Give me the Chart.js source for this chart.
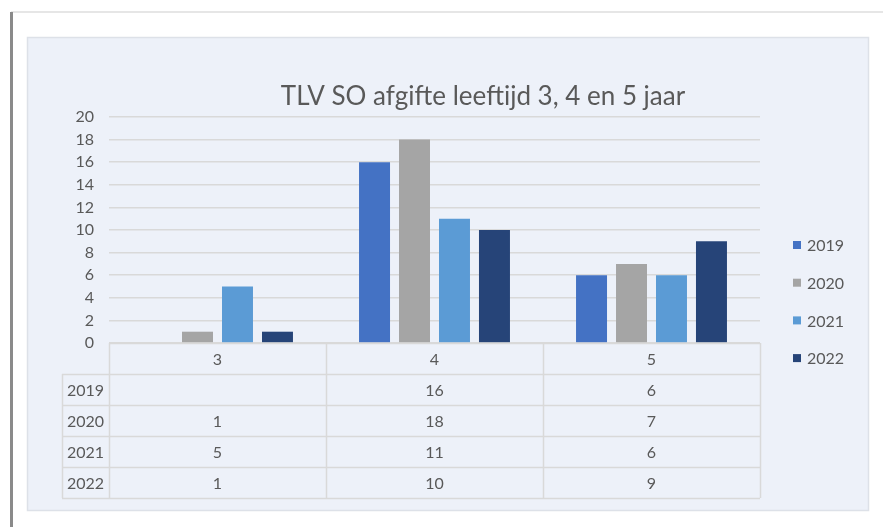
<!DOCTYPE html>
<html>
<head>
<meta charset="utf-8">
<script src="https://cdn.jsdelivr.net/npm/chart.js@4/dist/chart.umd.min.js"></script>
<style>
  html, body { margin: 0; padding: 0; background: #fff; }
  #wrap { width: 883px; height: 527px; }
</style>
</head>
<body>
<div id="wrap"><canvas id="tlvChart" width="883" height="527"></canvas></div>
<script>
// data
var categories = ["3", "4", "5"];
var years = ["2019", "2020", "2021", "2022"];
var data2019 = [null, 16, 6];
var data2020 = [1, 18, 7];
var data2021 = [5, 11, 6];
var data2022 = [1, 10, 9];
var yTicks = [0, 2, 4, 6, 8, 10, 12, 14, 16, 18, 20];
var chartTitle = "TLV SO afgifte leeftijd 3, 4 en 5 jaar";

var colors = ["#4472c4", "#a5a5a5", "#5b9bd5", "#264478"];
var textColor = "#595959";
var lineColor = "#d9d9d9";
var fontFamily = "Lato, 'Noto Sans', sans-serif";

// frame, panel, title, legend and data table
var excelLook = {
  id: "excelLook",
  beforeDraw: function(chart) {
    var c = chart.ctx;
    c.save();
    c.fillStyle = "#ffffff";
    c.fillRect(0, 0, chart.width, chart.height);
    // outer frame
    c.fillStyle = "#e6e6e6";
    c.fillRect(11, 11, chart.width - 11, 2);
    c.fillStyle = "#8a8a8a";
    c.fillRect(10, 12, 3, chart.height - 12);
    // chart panel
    c.fillStyle = "#edf1f9";
    c.fillRect(27, 37, 842, 474);
    c.strokeStyle = "#dde1e8";
    c.lineWidth = 1.5;
    c.strokeRect(27.5, 37.5, 841, 473);
    c.restore();
  },
  afterDraw: function(chart) {
    var c = chart.ctx;
    var area = chart.chartArea;
    var xs = chart.scales.x;
    var colW = area.width / categories.length;
    var rowH = 31;
    var top = area.bottom;
    var labelLeft = 62;
    c.save();

    // title
    c.fillStyle = textColor;
    c.font = "26px " + fontFamily;
    c.textAlign = "center";
    c.textBaseline = "middle";
    c.fillText(chartTitle, 483, 97);

    // legend
    c.font = "16px " + fontFamily;
    c.textAlign = "left";
    chart.data.datasets.forEach(function(ds, i) {
      var y = 245 + i * 37.7;
      c.fillStyle = ds.backgroundColor;
      c.fillRect(793, y - 4, 8, 8);
      c.fillStyle = textColor;
      c.fillText(ds.label, 807, y + 1);
    });

    // table grid
    c.strokeStyle = lineColor;
    c.lineWidth = 1.5;
    var nRows = years.length;
    var bottom = top + rowH * (nRows + 1);
    c.beginPath();
    c.moveTo(area.left, top + 0.5);
    c.lineTo(area.right, top + 0.5);
    for (var r = 1; r <= nRows + 1; r++) {
      var yy = Math.round(top + r * rowH) + 0.5;
      c.moveTo(labelLeft, yy);
      c.lineTo(area.right, yy);
    }
    for (var k = 0; k <= categories.length; k++) {
      var xx = Math.round(area.left + k * colW) + 0.5;
      c.moveTo(xx, top);
      c.lineTo(xx, bottom);
    }
    c.moveTo(labelLeft + 0.5, top + rowH);
    c.lineTo(labelLeft + 0.5, bottom);
    c.stroke();

    // table text
    c.fillStyle = textColor;
    c.font = "16px " + fontFamily;
    c.textAlign = "center";
    categories.forEach(function(cat, i) {
      c.fillText(cat, xs.getPixelForValue(i), top + rowH / 2 + 1);
    });
    chart.data.datasets.forEach(function(ds, r) {
      var yy = top + rowH * (r + 1) + rowH / 2 + 1;
      c.fillText(ds.label, (labelLeft + area.left) / 2, yy);
      ds.data.forEach(function(v, i) {
        if (v !== null) c.fillText(String(v), xs.getPixelForValue(i), yy);
      });
    });
    c.restore();
  }
};

var seriesData = [data2019, data2020, data2021, data2022];
var datasets = years.map(function(y, i) {
  return {
    label: y,
    data: seriesData[i],
    backgroundColor: colors[i],
    borderWidth: 0,
    categoryPercentage: 0.737,
    barPercentage: 0.775
  };
});

new Chart(document.getElementById("tlvChart"), {
  type: "bar",
  data: { labels: categories, datasets: datasets },
  options: {
    responsive: false,
    animation: false,
    layout: { padding: { left: 62, right: 123, top: 117, bottom: 184 } },
    plugins: {
      legend: { display: false },
      title: { display: false },
      tooltip: { enabled: false }
    },
    scales: {
      x: { display: false },
      y: {
        min: 0,
        max: 20,
        afterFit: function(scale) { scale.width = 47; },
        afterBuildTicks: function(scale) {
          scale.ticks = yTicks.map(function(v) { return { value: v }; });
        },
        border: { display: false },
        grid: { color: lineColor, lineWidth: 1.5, drawTicks: false },
        ticks: {
          autoSkip: false,
          padding: 15,
          color: textColor,
          font: { family: fontFamily, size: 16 }
        }
      }
    }
  },
  plugins: [excelLook]
});
</script>
</body>
</html>
